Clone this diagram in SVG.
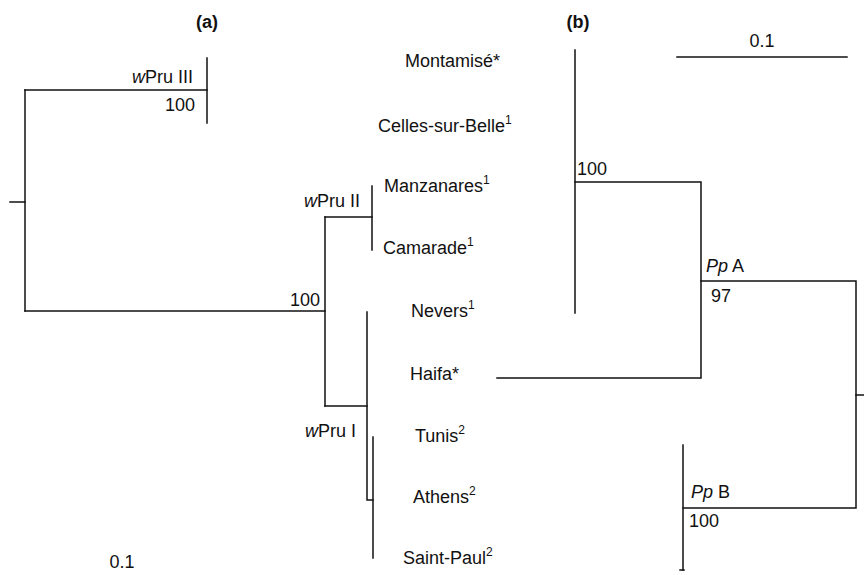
<svg xmlns="http://www.w3.org/2000/svg" width="864" height="575" viewBox="0 0 864 575">
  <style>
    text { font-family: "Liberation Sans", Arial, sans-serif; font-size: 18px; fill: #111; }
    .bold { font-weight: bold; }
    .it { font-style: italic; }
    .sup { font-size: 12px; }
    .br { fill: none; stroke: #111; stroke-width: 1.5; stroke-linecap: square; }
  </style>
  <rect width="864" height="575" fill="#fff"/>

  <!-- panel titles -->
  <text class="bold" x="207" y="28" text-anchor="middle">(a)</text>
  <text class="bold" x="578" y="28" text-anchor="middle">(b)</text>

  <!-- branches of both trees -->
  <g id="connectors">
    <!-- tree (a) -->
    <path class="br" d="M10,202 H25"/>
    <path class="br" d="M25,90 V311"/>
    <path class="br" d="M25,90 H207"/>
    <path class="br" d="M207,58 V123"/>
    <path class="br" d="M25,311 H325"/>
    <path class="br" d="M325,217 V406"/>
    <path class="br" d="M325,217 H372"/>
    <path class="br" d="M372,186 V250"/>
    <path class="br" d="M325,406 H367"/>
    <path class="br" d="M367,312 V500 H373"/>
    <path class="br" d="M373,437 V558"/>
    <!-- tree (b) -->
    <path class="br" d="M677,57 H847"/>
    <path class="br" d="M575,50 V313"/>
    <path class="br" d="M575,182 H701 V378 H497"/>
    <path class="br" d="M701,281 H856 V508 H683"/>
    <path class="br" d="M856,395 H864"/>
    <path class="br" d="M683,445 V570"/>
    <path class="br" d="M680,570 H684"/>
  </g>

  <!-- clade labels, tree (a) -->
  <g id="wPruIII">
    <text x="193" y="83" text-anchor="end"><tspan class="it">w</tspan>Pru III</text>
    <text x="195" y="111" text-anchor="end">100</text>
  </g>
  <g id="wPruII">
    <text x="360" y="207" text-anchor="end"><tspan class="it">w</tspan>Pru II</text>
  </g>
  <g id="nodeA100">
    <text x="320" y="306" text-anchor="end">100</text>
  </g>
  <g id="wPruI">
    <text x="356" y="437" text-anchor="end"><tspan class="it">w</tspan>Pru I</text>
  </g>
  <g id="scaleA">
    <text x="122" y="568" text-anchor="middle">0.1</text>
  </g>

  <!-- localities -->
  <g id="Montamise"><text x="405" y="67">Montamisé*</text></g>
  <g id="CellesSurBelle"><text x="378" y="132">Celles-sur-Belle<tspan class="sup" dy="-8">1</tspan></text></g>
  <g id="Manzanares"><text x="384" y="192">Manzanares<tspan class="sup" dy="-8">1</tspan></text></g>
  <g id="Camarade"><text x="383" y="254">Camarade<tspan class="sup" dy="-8">1</tspan></text></g>
  <g id="Nevers"><text x="411" y="317">Nevers<tspan class="sup" dy="-8">1</tspan></text></g>
  <g id="Haifa"><text x="410" y="380">Haifa*</text></g>
  <g id="Tunis"><text x="415" y="442">Tunis<tspan class="sup" dy="-8">2</tspan></text></g>
  <g id="Athens"><text x="413" y="503">Athens<tspan class="sup" dy="-8">2</tspan></text></g>
  <g id="SaintPaul"><text x="403" y="564">Saint-Paul<tspan class="sup" dy="-8">2</tspan></text></g>

  <!-- clade labels, tree (b) -->
  <g id="nodeB100"><text x="577" y="175">100</text></g>
  <g id="PpA">
    <text x="706" y="272"><tspan class="it">Pp</tspan> A</text>
    <text x="711" y="302">97</text>
  </g>
  <g id="PpB">
    <text x="691" y="498"><tspan class="it">Pp</tspan> B</text>
    <text x="689" y="527">100</text>
  </g>
  <g id="scaleB"><text x="762" y="47" text-anchor="middle">0.1</text></g>
</svg>
